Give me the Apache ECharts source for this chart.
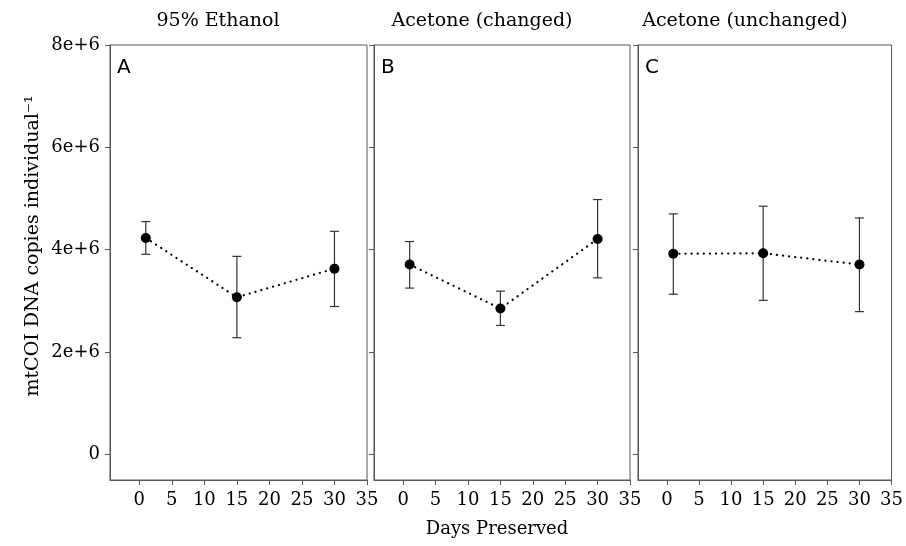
<!DOCTYPE html>
<html>
<head>
<meta charset="utf-8">
<script src="https://cdn.jsdelivr.net/npm/echarts@6/dist/echarts.min.js"></script>
<style>
  html, body { margin: 0; padding: 0; background: #fff; }
  #chart { width: 906px; height: 546px; }
</style>
</head>
<body>
<div id="chart"></div>
<script>
  // data (copies per individual)
  var days = [1, 15, 30]
  var panelTitles = ['95% Ethanol', 'Acetone (changed)', 'Acetone (unchanged)']
  var panelLetters = ['A', 'B', 'C']
  var xTicks = [0, 5, 10, 15, 20, 25, 30, 35]
  var yTicks = [0, 2e6, 4e6, 6e6, 8e6]

  var ethanolMean = [4.23e6, 3.07e6, 3.63e6]
  var ethanolLow = [3.91e6, 2.28e6, 2.89e6]
  var ethanolHigh = [4.55e6, 3.87e6, 4.36e6]

  var changedMean = [3.71e6, 2.85e6, 4.21e6]
  var changedLow = [3.25e6, 2.52e6, 3.45e6]
  var changedHigh = [4.16e6, 3.19e6, 4.98e6]

  var unchangedMean = [3.92e6, 3.93e6, 3.71e6]
  var unchangedLow = [3.13e6, 3.01e6, 2.79e6]
  var unchangedHigh = [4.70e6, 4.85e6, 4.62e6]

  var means = [ethanolMean, changedMean, unchangedMean]
  var lows = [ethanolLow, changedLow, unchangedLow]
  var highs = [ethanolHigh, changedHigh, unchangedHigh]

  var serif = '"DejaVu Serif", "Liberation Serif", serif'
  var axisColor = '#555'

  // panel positions (px)
  var panelLefts = [110, 374, 638]
  var panelWidths = [257, 256, 257]
  var panelTop = 45, panelHeight = 435
  var titleX = [218, 482, 745]

  var chart = echarts.init(document.getElementById('chart'))

  var grids = [], xAxes = [], yAxes = [], series = [], graphics = []

  for (let i = 0; i < 3; i++) {
    grids.push({
      left: panelLefts[i], top: panelTop, width: panelWidths[i], height: panelHeight,
      show: true, borderColor: axisColor, borderWidth: 1, backgroundColor: '#fff'
    })
    xAxes.push({
      gridIndex: i, type: 'value', min: -4.5, max: 35,
      splitLine: { show: false },
      axisLine: { show: true, onZero: false, lineStyle: { color: axisColor } },
      axisTick: { show: true, length: 5, customValues: xTicks, lineStyle: { color: axisColor } },
      axisLabel: { show: true, customValues: xTicks, margin: 11, color: '#000', fontFamily: serif, fontSize: 18 }
    })
    yAxes.push({
      gridIndex: i, type: 'value', min: -0.5e6, max: 8e6,
      splitLine: { show: false },
      axisLine: { show: true, onZero: false, lineStyle: { color: axisColor } },
      axisTick: { show: true, length: 5, customValues: yTicks, lineStyle: { color: axisColor } },
      axisLabel: {
        show: i === 0, customValues: yTicks, margin: 10, color: '#000',
        fontFamily: serif, fontSize: 18,
        formatter: function (v) { return v === 0 ? '0' : (v / 1e6) + 'e+6' }
      }
    })

    let bars = []
    let pts = []
    for (let k = 0; k < days.length; k++) {
      bars.push([days[k], lows[i][k], highs[i][k]])
      pts.push([days[k], means[i][k]])
    }

    // error bars
    series.push({
      type: 'custom', xAxisIndex: i, yAxisIndex: i, data: bars, z: 2,
      encode: { x: 0, y: [1, 2] },
      renderItem: function (params, api) {
        var x = api.value(0)
        var p1 = api.coord([x, api.value(2)])
        var p2 = api.coord([x, api.value(1)])
        var st = { stroke: '#333', lineWidth: 1.2 }
        var c = 4.5
        return {
          type: 'group',
          children: [
            { type: 'line', shape: { x1: p1[0], y1: p1[1], x2: p2[0], y2: p2[1] }, style: st },
            { type: 'line', shape: { x1: p1[0] - c, y1: p1[1], x2: p1[0] + c, y2: p1[1] }, style: st },
            { type: 'line', shape: { x1: p2[0] - c, y1: p2[1], x2: p2[0] + c, y2: p2[1] }, style: st }
          ]
        }
      }
    })
    // dotted line + points
    series.push({
      type: 'line', xAxisIndex: i, yAxisIndex: i, data: pts, z: 3,
      symbol: 'circle', symbolSize: 10,
      itemStyle: { color: '#000' },
      lineStyle: { color: '#000', width: 2.2, type: [0.1, 6], cap: 'round' },
      emphasis: { disabled: true }
    })

    graphics.push({
      type: 'text', x: titleX[i], y: 21,
      style: { text: panelTitles[i], font: '19px ' + serif, fill: '#000', textAlign: 'center', textVerticalAlign: 'middle' }
    })
    graphics.push({
      type: 'text', x: panelLefts[i] + 7, y: 68, z: 10,
      style: { text: panelLetters[i], font: '20px "DejaVu Sans", sans-serif', fill: '#000', textAlign: 'left', textVerticalAlign: 'middle' }
    })
  }

  // axis names
  graphics.push({
    type: 'text', x: 33, y: 246, rotation: Math.PI / 2,
    style: { text: 'mtCOI DNA copies individual⁻¹', font: '19px ' + serif, fill: '#000', textAlign: 'center', textVerticalAlign: 'middle' }
  })
  graphics.push({
    type: 'text', x: 497, y: 529,
    style: { text: 'Days Preserved', font: '18px ' + serif, fill: '#000', textAlign: 'center', textVerticalAlign: 'middle' }
  })

  var option = {
    animation: false,
    backgroundColor: '#fff',
    grid: grids,
    xAxis: xAxes,
    yAxis: yAxes,
    series: series,
    graphic: graphics
  }

  chart.setOption(option)
</script>
</body>
</html>
